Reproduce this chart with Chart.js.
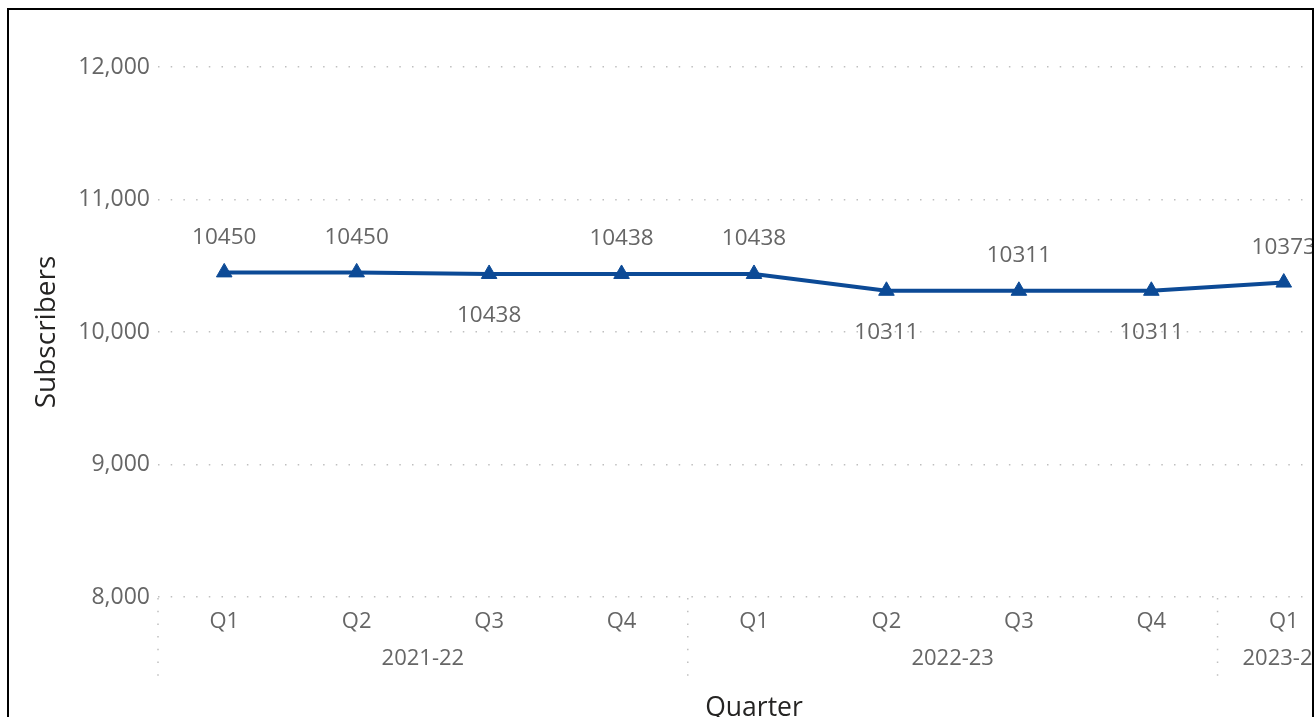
<!DOCTYPE html>
<html>
<head>
<meta charset="utf-8">
<script src="https://cdn.jsdelivr.net/npm/chart.js@4"></script>
<style>
  html, body { margin: 0; padding: 0; background: #fff; overflow: hidden; }
  #frame {
    position: absolute; left: 7px; top: 8px;
    width: 1303px; height: 720px;
    border: 2px solid #000; overflow: hidden; background: #fff;
  }
  #lineChart { display: block; }
</style>
</head>
<body>
<div id="frame">
  <canvas id="lineChart" width="1351" height="707"></canvas>
</div>
<script>
var quarters = ['Q1', 'Q2', 'Q3', 'Q4', 'Q1', 'Q2', 'Q3', 'Q4', 'Q1'];
var fiscalYears = ['2021-22', '2021-22', '2021-22', '2021-22', '2022-23', '2022-23', '2022-23', '2022-23', '2023-24'];
var subscribers = [10450, 10450, 10438, 10438, 10438, 10311, 10311, 10311, 10373];
// where each data label sits relative to its point
var labelSide = ['above', 'above', 'below', 'above', 'above', 'below', 'above', 'below', 'above'];

var FONT = "'Open Sans', 'Noto Sans', sans-serif";
var lineColor = '#0C4A96';

// data labels drawn next to each point
var pointLabels = {
  id: 'pointLabels',
  afterDatasetsDraw: function (chart) {
    var ctx = chart.ctx;
    var meta = chart.getDatasetMeta(0);
    ctx.save();
    ctx.font = '22.5px ' + FONT;
    ctx.fillStyle = '#666666';
    ctx.textAlign = 'center';
    ctx.textBaseline = 'middle';
    meta.data.forEach(function (pt, i) {
      var y = labelSide[i] === 'below' ? pt.y + 42 : pt.y - 35;
      ctx.fillText(String(subscribers[i]), pt.x, y);
    });
    ctx.restore();
  }
};

// second level of the x axis: fiscal years and the dotted dividers
var yearAxis = {
  id: 'yearAxis',
  afterDraw: function (chart) {
    var ctx = chart.ctx;
    var x = chart.scales.x;
    var top = chart.chartArea.bottom;
    var groups = [];
    fiscalYears.forEach(function (yr, i) {
      var last = groups[groups.length - 1];
      if (last && last.name === yr) last.end = i;
      else groups.push({ name: yr, start: i, end: i });
    });
    ctx.save();
    ctx.font = '22px ' + FONT;
    ctx.fillStyle = '#666666';
    ctx.textAlign = 'center';
    ctx.textBaseline = 'middle';
    groups.forEach(function (g) {
      var cx = (x.getPixelForValue(g.start) + x.getPixelForValue(g.end)) / 2;
      ctx.fillText(g.name, cx, top + 62);
      var sep = g.start === 0 ? chart.chartArea.left
        : (x.getPixelForValue(g.start - 1) + x.getPixelForValue(g.start)) / 2;
      ctx.beginPath();
      ctx.setLineDash([1.5, 11.2]);
      ctx.lineWidth = 1.5;
      ctx.strokeStyle = 'rgba(0,0,0,0.25)';
      ctx.moveTo(sep, top + 1);
      ctx.lineTo(sep, top + 84);
      ctx.stroke();
    });
    ctx.restore();
  }
};

new Chart(document.getElementById('lineChart'), {
  type: 'line',
  data: {
    labels: quarters,
    datasets: [{
      label: 'Subscribers',
      data: subscribers,
      borderColor: lineColor,
      backgroundColor: lineColor,
      borderWidth: 4,
      tension: 0,
      pointStyle: 'triangle',
      pointRadius: 9,
      pointHoverRadius: 9,
      pointBorderWidth: 1
    }]
  },
  options: {
    responsive: false,
    animation: false,
    layout: { padding: { top: 57, left: 0, right: 0, bottom: 0 } },
    plugins: {
      legend: { display: false },
      tooltip: { enabled: false }
    },
    scales: {
      x: {
        offset: true,
        grid: { display: false, drawTicks: false },
        border: { display: false },
        ticks: { color: '#666666', font: { family: FONT, size: 22 }, padding: 12, maxRotation: 0 },
        title: {
          display: true, text: 'Quarter', color: '#252423',
          font: { family: FONT, size: 26.5, weight: '500', lineHeight: 1 },
          padding: { top: 0, bottom: -5 }
        },
        afterFit: function (scale) { scale.height = 120; }
      },
      y: {
        min: 8000,
        max: 12000,
        ticks: {
          stepSize: 1000, color: '#666666', padding: 8,
          font: { family: FONT, size: 23 },
          callback: function (v) { return v.toLocaleString('en-US'); }
        },
        grid: {
          drawTicks: false, color: 'rgba(0,0,0,0.25)', lineWidth: 1.5
        },
        border: { display: false, dash: [1.5, 11.2] },
        title: {
          display: true, text: 'Subscribers', color: '#252423',
          font: { family: FONT, size: 28, weight: '500', lineHeight: 1 },
          padding: { top: 24, bottom: 0 }
        },
        afterFit: function (scale) { scale.width = 149; }
      }
    }
  },
  plugins: [pointLabels, yearAxis]
});
</script>
</body>
</html>
